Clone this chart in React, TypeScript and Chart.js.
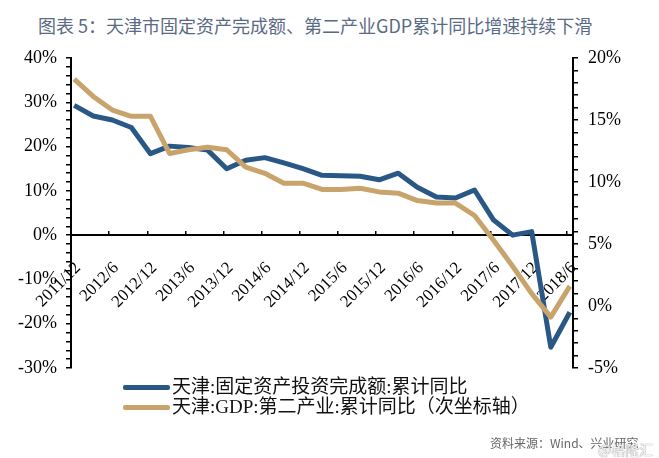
import React, { useEffect, useRef } from 'react';
import { Chart, registerables } from 'chart.js';

Chart.register(...registerables);

// ---- data ----
const quarters = [
  '2011/12', '2012/3', '2012/6', '2012/9', '2012/12',
  '2013/3', '2013/6', '2013/9', '2013/12',
  '2014/3', '2014/6', '2014/9', '2014/12',
  '2015/3', '2015/6', '2015/9', '2015/12',
  '2016/3', '2016/6', '2016/9', '2016/12',
  '2017/3', '2017/6', '2017/9', '2017/12',
  '2018/3', '2018/6',
];
// 天津:固定资产投资完成额:累计同比 (%), left axis
const faiYoY = [
  29.3, 26.9, 26.0, 24.3, 18.4,
  20.1, 19.8, 19.2, 15.0,
  16.9, 17.5, 16.3, 15.0,
  13.5, 13.4, 13.3, 12.5,
  14.0, 10.8, 8.6, 8.4,
  10.2, 3.4, 0.0, 0.8,
  -25.3, -17.4,
];
// 天津:GDP:第二产业:累计同比 (%), right axis
const gdpSecondaryYoY = [
  18.3, 16.9, 15.8, 15.3, 15.3,
  12.3, 12.6, 12.8, 12.6,
  11.2, 10.7, 9.9, 9.9,
  9.4, 9.4, 9.5, 9.2,
  9.1, 8.5, 8.3, 8.3,
  7.3, 5.3, 3.2, 1.0,
  -0.9, 1.6,
];
const xTickLabels = [
  '2011/12', '2012/6', '2012/12', '2013/6', '2013/12', '2014/6', '2014/12',
  '2015/6', '2015/12', '2016/6', '2016/12', '2017/6', '2017/12', '2018/6',
];
const axisStart = '2011/12';
const axisEnd = '2018/7';

const seriesNames = ['天津:固定资产投资完成额:累计同比', '天津:GDP:第二产业:累计同比（次坐标轴）'];
const titleText = '图表 5：天津市固定资产完成额、第二产业GDP累计同比增速持续下滑';
const sourceText = '资料来源：Wind、兴业研究';
const watermarkText = '@格隆汇';

const BLUE = '#2a5886';
const TAN = '#c8a46c';

function monthIndex(label: string): number {
  const [y, m] = label.split('/').map(Number);
  const [y0, m0] = axisStart.split('/').map(Number);
  return (y - y0) * 12 + (m - m0);
}

const serifFont = '"Liberation Serif", "Times New Roman", "Noto Sans CJK SC", serif';
const cjkFont = '"Noto Sans CJK SC", "Noto Sans", sans-serif';

export default function App() {
  const canvasRef = useRef<HTMLCanvasElement | null>(null);

  useEffect(() => {
    if (!canvasRef.current) return;
    const tickFont = { family: serifFont, size: 18 };
    const chart = new Chart(canvasRef.current, {
      type: 'line',
      data: {
        datasets: [
          {
            label: seriesNames[0],
            data: quarters.map((q, i) => ({ x: monthIndex(q) + 0.5, y: faiYoY[i] })),
            borderColor: BLUE,
            backgroundColor: BLUE,
            borderWidth: 5,
            pointRadius: 0,
            tension: 0,
            borderJoinStyle: 'round',
            yAxisID: 'y',
            order: 2,
          },
          {
            label: seriesNames[1],
            data: quarters.map((q, i) => ({ x: monthIndex(q) + 0.5, y: gdpSecondaryYoY[i] })),
            borderColor: TAN,
            backgroundColor: TAN,
            borderWidth: 5,
            pointRadius: 0,
            tension: 0,
            borderJoinStyle: 'round',
            yAxisID: 'y1',
            order: 1,
          },
        ],
      },
      options: {
        animation: false,
        responsive: false,
        maintainAspectRatio: false,
        devicePixelRatio: 1,
        layout: { padding: { top: 58, bottom: 90, left: 0, right: 0 } },
        plugins: {
          legend: { display: false },
          tooltip: { enabled: false },
        },
        scales: {
          x: {
            type: 'linear',
            position: { y: 0 } as any,
            min: monthIndex(axisStart),
            max: monthIndex(axisEnd),
            afterBuildTicks: (s: any) => {
              s.ticks = xTickLabels.map((l) => ({ value: monthIndex(l) }));
            },
            grid: {
              display: true,
              drawOnChartArea: false,
              drawTicks: true,
              tickLength: -5,
              color: '#000',
              lineWidth: 1.5,
            },
            border: { display: true, color: '#000', width: 2 },
            ticks: {
              autoSkip: false,
              maxRotation: 45,
              minRotation: 45,
              padding: 28,
              labelOffset: 7,
              color: '#000',
              font: { family: serifFont, size: 17 },
              callback: (v: any) => {
                const l = xTickLabels.find((t) => monthIndex(t) === Number(v));
                return l ?? '';
              },
            },
          },
          y: {
            type: 'linear',
            position: 'left',
            min: -30,
            max: 40,
            afterFit: (s: any) => {
              s.width = 71;
            },
            grid: {
              display: true,
              drawOnChartArea: false,
              drawTicks: true,
              tickLength: 5,
              color: '#000',
              lineWidth: 1.5,
            },
            border: { display: true, color: '#000', width: 2 },
            ticks: {
              stepSize: 2,
              autoSkip: false,
              padding: 9,
              color: '#000',
              font: tickFont,
              callback: (v: any) => (Math.round(Number(v)) % 10 === 0 ? `${v}%` : ''),
            },
          },
          y1: {
            type: 'linear',
            position: 'right',
            min: -5,
            max: 20,
            afterFit: (s: any) => {
              s.width = 86;
            },
            grid: {
              display: true,
              drawOnChartArea: false,
              drawTicks: true,
              tickLength: 5,
              color: '#000',
              lineWidth: 1.5,
            },
            border: { display: true, color: '#000', width: 2 },
            ticks: {
              stepSize: 1,
              autoSkip: false,
              padding: 10,
              color: '#000',
              font: tickFont,
              callback: (v: any) => (Math.round(Number(v)) % 5 === 0 ? `${v}%` : ''),
            },
          },
        },
      },
    });
    return () => chart.destroy();
  }, []);

  const legendRow = (color: string, text: string, cy: number) => (
    <div key={text}>
      <div
        style={{
          position: 'absolute',
          left: 123,
          top: cy - 2.5,
          width: 47,
          height: 5,
          background: color,
          borderRadius: 2,
        }}
      />
      <div
        style={{
          position: 'absolute',
          left: 172,
          top: cy - 12,
          height: 24,
          lineHeight: '24px',
          fontFamily: serifFont,
          fontSize: 19,
          color: '#111',
          whiteSpace: 'nowrap',
        }}
      >
        {text}
      </div>
    </div>
  );

  return (
    <div
      style={{
        position: 'absolute',
        left: 0,
        top: 0,
        width: 659,
        height: 458,
        background: '#fff',
        overflow: 'hidden',
      }}
    >
      <div
        style={{
          position: 'absolute',
          left: 38,
          top: 13,
          fontFamily: cjkFont,
          fontSize: 18,
          lineHeight: '24px',
          color: '#5a6a85',
          whiteSpace: 'nowrap',
        }}
      >
        {titleText}
      </div>
      <canvas
        ref={canvasRef}
        width={659}
        height={458}
        style={{ position: 'absolute', left: 0, top: 0, width: 659, height: 458 }}
      />
      {legendRow(BLUE, seriesNames[0], 387)}
      {legendRow(TAN, seriesNames[1], 407)}
      <div
        style={{
          position: 'absolute',
          left: 490,
          top: 435,
          fontFamily: cjkFont,
          fontSize: 12,
          lineHeight: '16px',
          color: '#666',
          whiteSpace: 'nowrap',
        }}
      >
        {sourceText}
      </div>
      <div
        style={{
          position: 'absolute',
          left: 598,
          top: 441,
          fontFamily: cjkFont,
          fontSize: 14,
          lineHeight: '16px',
          color: '#f4f4f4',
          textShadow: '0 0 1px #999, 0 0 1px #999',
          whiteSpace: 'nowrap',
        }}
      >
        {watermarkText}
      </div>
    </div>
  );
}
